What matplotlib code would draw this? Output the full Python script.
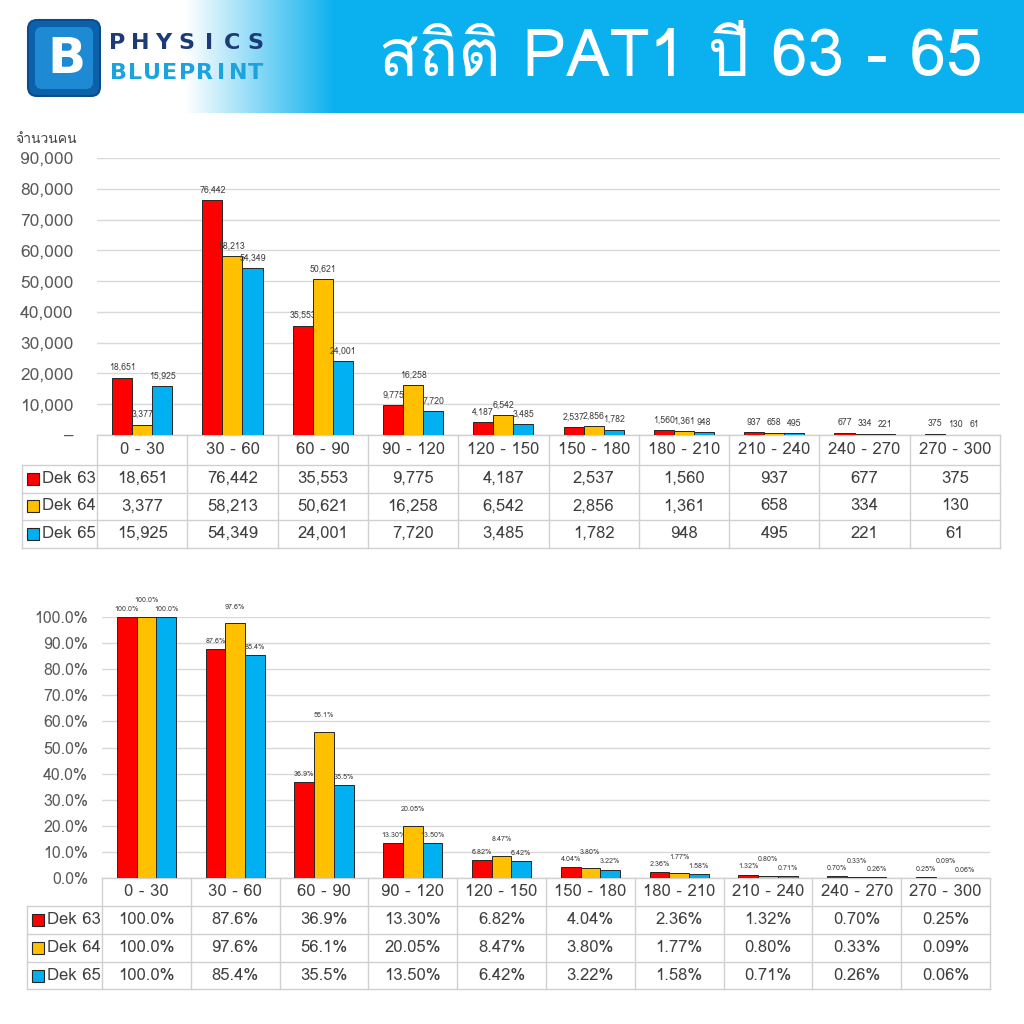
import numpy as np
import matplotlib
matplotlib.use("Agg")
import matplotlib.pyplot as plt
from matplotlib import font_manager
from matplotlib.ft2font import FT2Font
from matplotlib.patches import FancyBboxPatch, Rectangle

# ---- data ----
categories = ['0 - 30', '30 - 60', '60 - 90', '90 - 120', '120 - 150',
              '150 - 180', '180 - 210', '210 - 240', '240 - 270', '270 - 300']
series_names = ['Dek 63', 'Dek 64', 'Dek 65']
series_colors = ['#FF0000', '#FFC000', '#00B0F0']

dek63_count = [18651, 76442, 35553, 9775, 4187, 2537, 1560, 937, 677, 375]
dek64_count = [3377, 58213, 50621, 16258, 6542, 2856, 1361, 658, 334, 130]
dek65_count = [15925, 54349, 24001, 7720, 3485, 1782, 948, 495, 221, 61]

dek63_pct = [100.0, 87.6, 36.9, 13.30, 6.82, 4.04, 2.36, 1.32, 0.70, 0.25]
dek64_pct = [100.0, 97.6, 56.1, 20.05, 8.47, 3.80, 1.77, 0.80, 0.33, 0.09]
dek65_pct = [100.0, 85.4, 35.5, 13.50, 6.42, 3.22, 1.58, 0.71, 0.26, 0.06]
pct_decimals = [1, 1, 1, 2, 2, 2, 2, 2, 2, 2]

count_ticks = [0, 10000, 20000, 30000, 40000, 50000, 60000, 70000, 80000, 90000]
pct_ticks = [0, 10, 20, 30, 40, 50, 60, 70, 80, 90, 100]

title = 'สถิติ PAT1 ปี 63 - 65'
count_axis_label = 'จำนวนคน'


def find_thai_font():
    # first installed font that has Thai glyphs
    for f in font_manager.fontManager.ttflist:
        try:
            cmap = FT2Font(f.fname).get_charmap()
        except Exception:
            continue
        if 0x0E2A in cmap and 0x0E16 in cmap:
            return f.name
    return 'DejaVu Sans'


thai_font = find_thai_font()
plt.rcParams['font.family'] = [thai_font, 'DejaVu Sans']

TEXT = '#404040'
GRID = '#D9D9D9'
EDGE = '#262626'
W, H = 1024, 1024

fig = plt.figure(figsize=(10.24, 10.24), dpi=100)
fig.patch.set_facecolor('white')


def px_axes(x0, y0, x1, y1):
    # pixel box (top-left origin) -> axes
    return fig.add_axes([x0 / W, 1 - y1 / H, (x1 - x0) / W, (y1 - y0) / H])


# ---- header banner ----
axh = px_axes(0, 0, W, 113)
xs = np.arange(W)
t = np.clip((xs - 185) / 150.0, 0, 1)
blue = np.array([11, 176, 238]) / 255.0
grad = (1 - t)[:, None] * np.ones(3) + t[:, None] * blue
axh.imshow(np.repeat(grad[None, :, :], 2, axis=0), extent=[0, W, 113, 0], aspect='auto')
axh.set_xlim(0, W)
axh.set_ylim(113, 0)
axh.axis('off')

axh.add_patch(FancyBboxPatch((28, 20), 72, 76, boxstyle='round,pad=0,rounding_size=9',
                             fc='#0B62AA', ec='#0A4C8C', lw=1.5))
axh.add_patch(FancyBboxPatch((35, 27), 58, 62, boxstyle='round,pad=0,rounding_size=7',
                             fc='#1E8AD4', ec='none'))
axh.text(66, 59, 'B', color='white', fontsize=36, fontweight='bold',
         ha='center', va='center', family='DejaVu Sans')

for i, ch in enumerate('PHYSICS'):
    axh.text(117 + i * 23, 43, ch, color='#1D3A78', fontsize=16, fontweight='bold',
             ha='center', va='center', family='DejaVu Sans')
for i, ch in enumerate('BLUEPRINT'):
    axh.text(118 + i * 17.2, 73, ch, color='#1BA3E0', fontsize=16, fontweight='bold',
             ha='center', va='center', family='DejaVu Sans')

axh.text(681, 60, title, color='white', fontsize=47, ha='center', va='center')


def draw_table(ax, rows, ax_h_px, ax_w_px, head_px, row_px, legend_left_px):
    n = len(categories)
    tr = ax.transAxes
    head = head_px / ax_h_px
    rh = row_px / ax_h_px
    bottom = -(head + rh * len(rows))
    left = -legend_left_px / ax_w_px
    lk = dict(color='#D0D0D0', lw=1, transform=tr, clip_on=False)
    # horizontal lines
    ax.plot([0, 1], [0, 0], **lk)
    for r in range(len(rows) + 1):
        y = -(head + rh * r)
        ax.plot([left, 1], [y, y], **lk)
    # vertical lines
    for j in range(n + 1):
        ax.plot([j / n, j / n], [0, bottom], **lk)
    ax.plot([left, left], [-head, bottom], **lk)
    # header text
    for j, c in enumerate(categories):
        ax.text((j + 0.5) / n, -head / 2, c, transform=tr, ha='center', va='center',
                fontsize=12, color=TEXT)
    sq_w = 12 / ax_w_px
    sq_h = 12 / ax_h_px
    for r, (name, color, labels) in enumerate(rows):
        yc = -(head + rh * (r + 0.5))
        ax.add_patch(Rectangle((left + 5 / ax_w_px, yc - sq_h / 2), sq_w, sq_h, transform=tr,
                               fc=color, ec=EDGE, lw=0.8, clip_on=False))
        ax.text(left + 20 / ax_w_px, yc, name, transform=tr, ha='left', va='center',
                fontsize=12, color=TEXT)
        for j, lab in enumerate(labels):
            ax.text((j + 0.5) / n, yc, lab, transform=tr, ha='center', va='center',
                    fontsize=12, color=TEXT)


def style_axes(ax):
    for s in ax.spines.values():
        s.set_visible(False)
    ax.set_xticks([])
    ax.yaxis.grid(True, color=GRID, lw=1)
    ax.set_axisbelow(True)
    ax.set_xlim(-0.5, len(categories) - 0.5)


x = np.arange(len(categories))
bw = 0.222
offsets = [-bw, 0, bw]
label_lift = [3, 9, 3]   # middle series labels sit a little higher

# ---- top chart: counts ----
ax1 = px_axes(97, 158, 1000, 435)
style_axes(ax1)
counts = [dek63_count, dek64_count, dek65_count]
for vals, col, off in zip(counts, series_colors, offsets):
    bars = ax1.bar(x + off, vals, width=bw, color=col, edgecolor=EDGE, linewidth=0.7, zorder=3)
    for b, v in zip(bars, vals):
        ax1.annotate(f'{v:,}', (b.get_x() + b.get_width() / 2, v), xytext=(0, 4),
                     textcoords='offset points', ha='center', va='bottom',
                     fontsize=6.3, color=TEXT)
ax1.set_ylim(0, 90000)
ax1.set_yticks(count_ticks)
ax1.set_yticklabels(['–' if v == 0 else f'{v:,}' for v in count_ticks], fontsize=12.5, color='#595959')
ax1.tick_params(axis='y', length=0, pad=17)
fig.text(15 / W, 1 - 140 / H, count_axis_label, fontsize=10, color=TEXT, ha='left', va='center')

draw_table(ax1, [(n, c, [f'{v:,}' for v in vals])
                 for n, c, vals in zip(series_names, series_colors, counts)],
           277, 903, 30, 27.5, 75)

# ---- bottom chart: cumulative percent ----
ax2 = px_axes(102, 617, 990, 878)
style_axes(ax2)
pcts = [dek63_pct, dek64_pct, dek65_pct]
pct_labels = [[f'{v:.{d}f}%' for v, d in zip(vals, pct_decimals)] for vals in pcts]
for vals, labs, col, off, lift in zip(pcts, pct_labels, series_colors, offsets, label_lift):
    bars = ax2.bar(x + off, vals, width=bw, color=col, edgecolor=EDGE, linewidth=0.7, zorder=3)
    for b, v, lab in zip(bars, vals, labs):
        ax2.annotate(lab, (b.get_x() + b.get_width() / 2, v), xytext=(0, lift),
                     textcoords='offset points', ha='center', va='bottom',
                     fontsize=5.2, color=TEXT, annotation_clip=False)
ax2.set_ylim(0, 100)
ax2.set_yticks(pct_ticks)
ax2.set_yticklabels([f'{v:.1f}%' for v in pct_ticks], fontsize=11.5, color='#595959')
ax2.tick_params(axis='y', length=0, pad=10)

draw_table(ax2, [(n, c, labs) for n, c, labs in zip(series_names, series_colors, pct_labels)],
           261, 888, 28, 27.8, 75)

fig.savefig('out.png', dpi=100)
